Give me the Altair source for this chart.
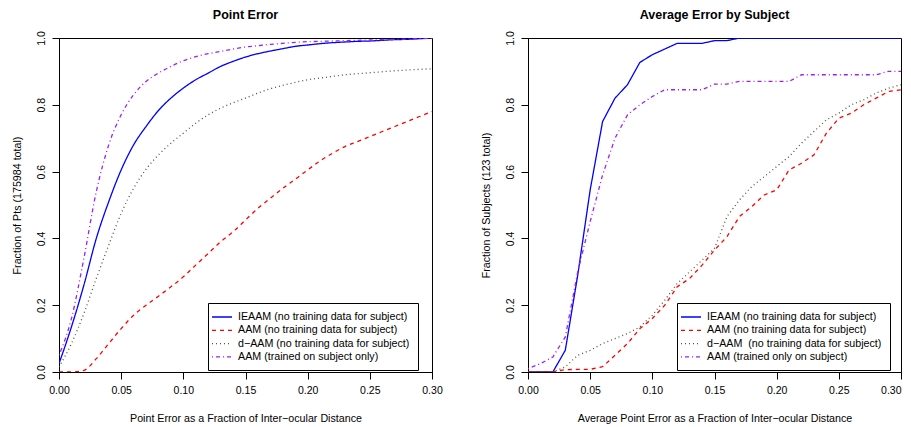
import altair as alt
import pandas as pd

# ---------------- data ----------------
x_vals = [0.00, 0.01, 0.02, 0.03, 0.04, 0.05, 0.06, 0.07, 0.08, 0.09, 0.10,
          0.11, 0.12, 0.13, 0.14, 0.15, 0.16, 0.17, 0.18, 0.19, 0.20,
          0.21, 0.22, 0.23, 0.24, 0.25, 0.26, 0.27, 0.28, 0.29, 0.30]

# Left panel: Point Error
left_names = ["IEAAM (no training data for subject)",
              "AAM (no training data for subject)",
              "d\u2212AAM (no training data for subject)",
              "AAM (trained on subject only)"]
left_ieaam = [0.025, 0.135, 0.26, 0.40, 0.51, 0.605, 0.68, 0.735, 0.783, 0.82, 0.85,
              0.875, 0.895, 0.915, 0.93, 0.943, 0.953, 0.961, 0.968, 0.975, 0.979,
              0.983, 0.986, 0.988, 0.99, 0.991, 0.993, 0.995, 0.996, 0.998, 1.0]
left_aam = [0.0, 0.0, 0.005, 0.04, 0.085, 0.13, 0.17, 0.20, 0.227, 0.255, 0.285,
            0.32, 0.355, 0.39, 0.42, 0.455, 0.49, 0.52, 0.55, 0.577, 0.605,
            0.632, 0.655, 0.675, 0.69, 0.705, 0.72, 0.735, 0.75, 0.765, 0.78]
left_daam = [0.015, 0.085, 0.175, 0.28, 0.38, 0.475, 0.55, 0.607, 0.65, 0.685, 0.715,
             0.745, 0.77, 0.79, 0.806, 0.82, 0.835, 0.848, 0.858, 0.867, 0.875,
             0.88, 0.885, 0.89, 0.893, 0.896, 0.899, 0.902, 0.904, 0.906, 0.908]
left_trained = [0.05, 0.16, 0.34, 0.54, 0.68, 0.77, 0.83, 0.87, 0.895, 0.915, 0.932,
                0.944, 0.953, 0.96, 0.967, 0.973, 0.977, 0.981, 0.984, 0.987, 0.989,
                0.99, 0.991, 0.992, 0.993, 0.994, 0.995, 0.996, 0.997, 0.998, 1.0]

# Right panel: Average Error by Subject
right_names = ["IEAAM (no training data for subject)",
               "AAM (no training data for subject)",
               "d\u2212AAM\u00a0 (no training data for subject)",
               "AAM (trained only on subject)"]
right_ieaam = [0.0, 0.0, 0.0, 0.065, 0.29, 0.545, 0.75, 0.82, 0.86, 0.927, 0.95,
               0.967, 0.984, 0.984, 0.984, 0.992, 0.992, 1.0, 1.0, 1.0, 1.0,
               1.0, 1.0, 1.0, 1.0, 1.0, 1.0, 1.0, 1.0, 1.0, 1.0]
right_aam = [0.0, 0.0, 0.0, 0.007, 0.008, 0.008, 0.016, 0.05, 0.085, 0.13, 0.16,
             0.2, 0.255, 0.28, 0.32, 0.365, 0.405, 0.465, 0.495, 0.53, 0.545,
             0.605, 0.625, 0.65, 0.715, 0.76, 0.775, 0.8, 0.82, 0.84, 0.845]
right_daam = [0.0, 0.0, 0.0, 0.015, 0.05, 0.065, 0.085, 0.1, 0.115, 0.135, 0.17,
              0.215, 0.265, 0.3, 0.335, 0.37, 0.465, 0.515, 0.555, 0.585, 0.615,
              0.645, 0.685, 0.72, 0.755, 0.775, 0.8, 0.815, 0.835, 0.85, 0.86]
right_trained = [0.01, 0.025, 0.045, 0.105, 0.30, 0.45, 0.59, 0.70, 0.77, 0.80, 0.825,
                 0.845, 0.845, 0.845, 0.845, 0.862, 0.862, 0.87, 0.87, 0.87, 0.87,
                 0.87, 0.89, 0.89, 0.89, 0.89, 0.89, 0.89, 0.89, 0.90, 0.90]

x_ticks = [0.00, 0.05, 0.10, 0.15, 0.20, 0.25, 0.30]
y_ticks = [0.0, 0.2, 0.4, 0.6, 0.8, 1.0]

colors = ["#0000FF", "#FF0000", "#55553A", "#A020F0"]
dashes = [[1, 0], [4, 4], [1, 3], [1, 3, 4, 3]]

FONT = "Liberation Sans"


def make_df(names, series):
    rows = []
    for name, vals in zip(names, series):
        for i, (xv, yv) in enumerate(zip(x_vals, vals)):
            rows.append({"series": name, "x": xv, "y": yv, "i": i})
    return pd.DataFrame(rows)


def panel(df, names, title, xtitle, ytitle, interp, x_label_align):
    legend = alt.Legend(
        title=None, orient="none", legendX=149, legendY=265,
        strokeColor="black", fillColor="white", padding=8,
        symbolType="M-2,0L2,0", symbolSize=100, symbolStrokeWidth=1.3,
        labelFont=FONT, labelFontSize=10.7, labelColor="black",
        labelOffset=10, rowPadding=2.3, labelLimit=400,
    )
    return alt.Chart(df).mark_line(strokeWidth=1.3, clip=True,
                                   interpolate=interp).encode(
        x=alt.X("x:Q",
                scale=alt.Scale(domain=[0, 0.3], nice=False, zero=False),
                axis=alt.Axis(values=x_ticks, format=".2f", title=xtitle,
                              labelFlush=False, labelAlign=x_label_align,
                              tickSize=7, labelPadding=6, titlePadding=18)),
        y=alt.Y("y:Q",
                scale=alt.Scale(domain=[0, 1], nice=False),
                axis=alt.Axis(values=y_ticks, format=".1f", title=ytitle,
                              labelFlush=False,
                              labelAngle=-90, labelAlign="center",
                              labelBaseline="bottom",
                              tickSize=7, labelPadding=6, titlePadding=14)),
        color=alt.Color("series:N",
                        scale=alt.Scale(domain=names, range=colors),
                        legend=legend),
        strokeDash=alt.StrokeDash("series:N",
                                  scale=alt.Scale(domain=names, range=dashes),
                                  legend=legend),
        order=alt.Order("i:Q"),
    ).properties(
        width=373, height=334,
        title=alt.TitleParams(title, font=FONT, fontSize=12.5,
                              fontWeight="bold", anchor="middle", offset=9),
    )


left_df = make_df(left_names, [left_ieaam, left_aam, left_daam, left_trained])
right_df = make_df(right_names, [right_ieaam, right_aam, right_daam, right_trained])

left = panel(left_df, left_names, "Point Error",
             "Point Error as a Fraction of Inter\u2212ocular Distance",
             "Fraction of Pts (175984 total)", "monotone", "center")
right = panel(right_df, right_names, "Average Error by Subject",
              "Average Point Error as a Fraction of Inter\u2212ocular Distance",
              "Fraction of Subjects (123 total)", "linear",
              {"condition": {"test": "datum.value >= 0.299", "value": "right"},
               "value": "center"})

chart = alt.hconcat(left, right, spacing=96, bounds="flush").resolve_scale(
    color="independent", strokeDash="independent"
).resolve_legend(
    color="independent", strokeDash="independent"
).properties(
    padding={"left": 2, "top": 0, "right": 0, "bottom": 0},
    background="white",
).configure_view(
    stroke="black", strokeWidth=1
).configure_axis(
    grid=False, domainColor="black", tickColor="black",
    labelColor="black", titleColor="black",
    labelFont=FONT, labelFontSize=10.5,
    titleFont=FONT, titleFontSize=10.7, titleFontWeight="normal",
    domainWidth=1, tickWidth=1,
)

chart.save("out.html", embed_options={"renderer": "svg", "actions": False})
